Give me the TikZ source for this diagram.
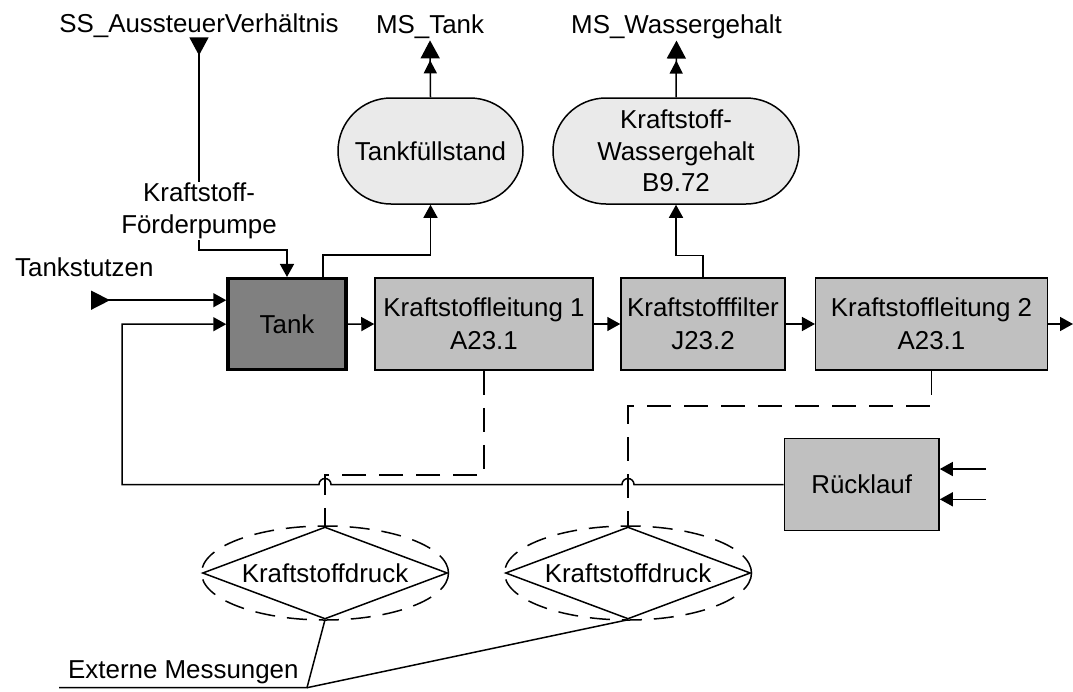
\documentclass[tikz,border=0pt]{standalone}
\usepackage{fontspec}
\setmainfont{Liberation Sans}
\usetikzlibrary{arrows.meta,shapes.geometric,shapes.misc}

\definecolor{boxgray}{HTML}{C0C0C0}
\definecolor{tankgray}{HTML}{808080}
\definecolor{sensorgray}{HTML}{EAEAEA}

\begin{document}
\begin{tikzpicture}[x=1pt,y=-1pt,
  every node/.style={font=\fontsize{25.9pt}{31.6pt}\selectfont, inner sep=0pt},
  wire/.style={line width=1.5pt},
  conn/.style={wire, -{Triangle[length=13pt,width=14pt]}},
  srcdown/.style={wire, {Triangle[reversed,length=18pt,width=19pt]}-},
  srcright/.style={wire, {Triangle[reversed,length=19pt,width=19pt]}-{Triangle[length=13pt,width=14pt]}},
  dblout/.style={wire, -{Triangle[length=13pt,width=13pt,sep=2pt] Triangle[length=18pt,width=19pt]}},
  dashd/.style={wire, dash pattern=on 24pt off 13pt},
  block/.style={draw, line width=1.5pt, fill=boxgray, minimum height=92pt, align=center,
    font=\fontsize{25.9pt}{33.3pt}\selectfont},
  tankbox/.style={draw, line width=3.5pt, fill=tankgray, minimum width=118pt, minimum height=91pt},
  sensor/.style={draw, line width=1.5pt, rounded rectangle, fill=sensorgray, minimum height=106pt, align=center},
  measure/.style={diamond, draw, line width=1.5pt, aspect=2.663, minimum width=245pt, minimum height=92pt},
  hull/.style={ellipse, draw, line width=1.5pt, dash pattern=on 20pt off 12pt, minimum width=247pt, minimum height=94pt}
]
\useasboundingbox (0,0) rectangle (1073,691);

% signal names
\node[anchor=base] (ss) at (199,32) {SS\_AussteuerVerhältnis};
\node[anchor=base, inner ysep=2pt] (mstank) at (430,33) {MS\_Tank};
\node[anchor=base, inner ysep=2pt] (mswg) at (676.5,33) {MS\_Wassergehalt};
\node[align=center, inner sep=1pt] (pump) at (199,210.7) {Kraftstoff-\\Förderpumpe};
\node[anchor=base west] (tstz) at (15,276.7) {Tankstutzen};
\node[anchor=base west] (ext) at (68,678) {Externe Messungen};

% sensors
\node[sensor, minimum width=185pt] (tfs) at (430.5,151) {Tankfüllstand};
\node[sensor, minimum width=246pt] (wg) at (676,151) {Kraftstoff-\\Wassergehalt\\B9.72};

% fuel path
\node[tankbox] (tank) at (287,324.2) {Tank};
\node[block, minimum width=218pt] (kl1) at (484,324) {Kraftstoffleitung 1\\A23.1};
\node[block, minimum width=164pt] (filt) at (703,324) {Kraftstofffilter\\J23.2};
\node[block, minimum width=231.6pt] (kl2) at (931.5,324) {Kraftstoffleitung 2\\A23.1};
\node[block, minimum width=154.7pt] (rueck) at (861.7,484.5) {Rücklauf};

% pressure measurements
\node[hull] (e1) at (325,573) {};
\node[hull] (e2) at (628,573) {};
\node[measure] (d1) at (325,573) {Kraftstoffdruck};
\node[measure] (d2) at (628,573) {Kraftstoffdruck};

% free ends
\coordinate (tsin) at (91,300.2);
\coordinate (fuelout) at (1073,324);
\coordinate (rin1) at (986,469);
\coordinate (rin2) at (986,499.3);
\coordinate (retbend) at (122,484.5);
\coordinate (extl) at (59,687.7);
\coordinate (extj) at (307,687.7);

% control and signal lines
\draw[srcdown] (ss.south) -- (pump.north);
\draw[conn] (pump.south) -- ++(0,10) -| (tank.north);
\draw[conn] ([xshift=36pt]tank.north) -- ++(0,-22) -| (tfs.south);
\draw[conn] (filt.north) -- ++(0,-22) -| (wg.south);
\draw[dblout] (tfs.north) -- (mstank.south);
\draw[dblout] (wg.north) -- (mswg.south);

% fuel flow
\draw[srcright] (tsin) -- ([yshift=24pt]tank.west);
\draw[conn] (tank.east) -- (kl1.west);
\draw[conn] (kl1.east) -- (filt.west);
\draw[conn] (filt.east) -- (kl2.west);
\draw[conn] (kl2.east) -- (fuelout);

% return line with hops over the measurement taps
\draw[conn] (rueck.west) -- ([xshift=6pt]d2.north |- rueck.west)
  arc[start angle=0, end angle=180, radius=6pt]
  -- ([xshift=6pt]d1.north |- rueck.west)
  arc[start angle=0, end angle=180, radius=6pt]
  -- (retbend) |- (tank.west);
\draw[conn] (rin1) -- (rin1 -| rueck.east);
\draw[conn] (rin2) -- (rin2 -| rueck.east);

% measurement taps
\draw[dashd] (kl1.south) -- ++(0,104) -| (d1.north);
\draw[dashd] (kl2.south) -- ++(0,35) -| (d2.north);

% annotation
\draw[wire] (extl) -- (extj) -- (d1.south);
\draw[wire] (extj) -- (d2.south);
\end{tikzpicture}
\end{document}
